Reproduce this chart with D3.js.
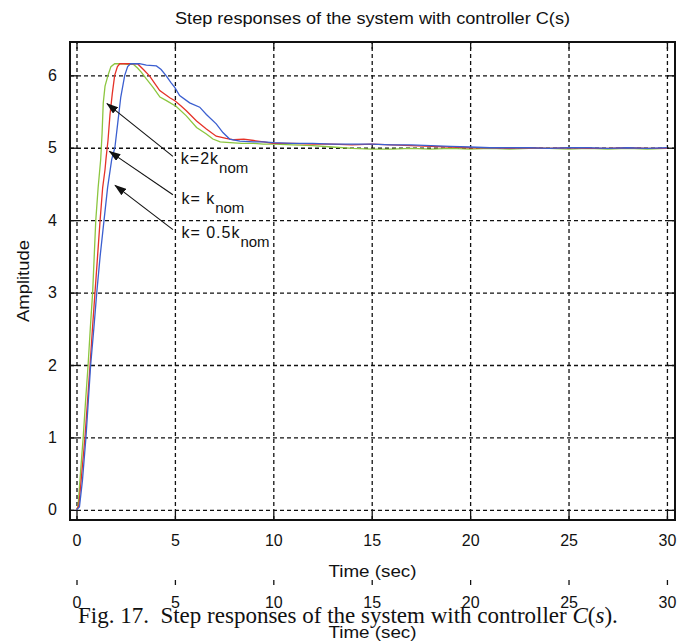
<!DOCTYPE html>
<html lang="en">
<head>
  <meta charset="UTF-8">
  <title>Step responses of the system with controller C(s)</title>
  <script src="https://d3js.org/d3.v7.min.js"></script>
  <style>
    body { margin: 0; background: #fff; }
    svg { display: block; }
    text { font-family: "Liberation Sans", Arial, sans-serif; fill: #111; }
    .grid line { stroke: #111; stroke-width: 1.3; stroke-dasharray: 4,3; }
    .grid path { display: none; }
    .tk line { stroke: #111; stroke-width: 1.3; }
    .tk path { display: none; }
    .tk text { font-size: 16px; font-family: "Liberation Sans", Arial, sans-serif; }
    .caption { font-family: "Liberation Serif", "Times New Roman", serif; }
  </style>
</head>
<body>
  <svg width="688" height="644"></svg>

  <script>
    // Tick values
    const xTicks = [0, 5, 10, 15, 20, 25, 30];
    const yTicks = [0, 1, 2, 3, 4, 5, 6];

    // k = 2 k_nom (green)
    const t2k = [0, 0.08, 0.2, 0.34, 0.46, 0.59, 0.7, 0.82, 0.9, 0.98,
      1.1, 1.23, 1.3, 1.36, 1.45, 1.6, 1.75, 1.94, 2.3, 2.6,
      2.9, 3.1, 3.3, 3.55, 3.9, 4.24, 4.57, 5.07, 5.58, 6.1,
      6.6, 6.93, 7.3, 7.8, 8.4, 9, 9.5, 10, 11, 12,
      13, 14, 15, 16, 17, 18, 19, 20, 21, 22,
      23, 24, 25, 26, 27, 28, 29, 30];
    const y2k = [0, 0.05, 0.5, 1.0, 1.5, 2.0, 2.5, 3.0, 3.5, 4.0,
      4.45, 4.84, 5.2, 5.62, 5.85, 6.0, 6.12, 6.16, 6.16, 6.15,
      6.15, 6.1, 6.04, 5.95, 5.83, 5.7, 5.65, 5.57, 5.44, 5.28,
      5.19, 5.12, 5.08, 5.07, 5.06, 5.06, 5.05, 5.05, 5.04, 5.03,
      5.01, 4.99, 4.98, 4.98, 4.99, 4.98, 4.99, 4.98, 4.99, 4.98,
      4.99, 4.99, 4.98, 4.99, 4.98, 4.99, 4.98, 4.99];

    // k = k_nom (red)
    const t1k = [0, 0.12, 0.25, 0.43, 0.56, 0.69, 0.81, 0.94, 1.07, 1.2,
      1.33, 1.45, 1.5, 1.6, 1.7, 1.82, 1.94, 2.08, 2.2, 2.6,
      3.1, 3.4, 3.72, 4.0, 4.23, 4.74, 5.0, 5.3, 5.58, 6.1,
      6.6, 7.1, 7.6, 8.0, 8.5, 9.0, 9.5, 10, 11, 12,
      13, 14, 15, 16, 17, 18, 19, 20, 21, 22,
      23, 24, 25, 26, 27, 28, 29, 30];
    const y1k = [0, 0.06, 0.45, 1.0, 1.5, 2.0, 2.5, 3.0, 3.5, 4.0,
      4.45, 4.7, 4.85, 5.1, 5.45, 5.75, 6.0, 6.12, 6.16, 6.16,
      6.16, 6.08, 5.99, 5.88, 5.79, 5.69, 5.65, 5.58, 5.51, 5.37,
      5.26, 5.16, 5.13, 5.11, 5.12, 5.1, 5.08, 5.06, 5.06, 5.05,
      5.05, 5.04, 5.05, 5.04, 5.03, 5.02, 5.01, 5.0, 5.0, 4.99,
      5.0, 4.99, 5.0, 4.99, 4.99, 5.0, 4.99, 4.99];

    // k = 0.5 k_nom (blue)
    const t05k = [0, 0.15, 0.3, 0.48, 0.6, 0.72, 0.88, 1.03, 1.2, 1.4,
      1.58, 1.79, 1.95, 2.1, 2.25, 2.45, 2.6, 2.75, 3.2, 3.55,
      4.06, 4.3, 4.57, 4.8, 5.0, 5.24, 5.75, 6.26, 6.6, 7.1,
      7.44, 7.78, 8.3, 9, 9.5, 10, 11, 12, 13, 14,
      15, 16, 17, 18, 19, 20, 21, 22, 23, 24,
      25, 26, 27, 28, 29, 30];
    const y05k = [0, 0.04, 0.4, 1.0, 1.5, 2.0, 2.5, 3.0, 3.5, 4.0,
      4.45, 4.84, 5.0, 5.35, 5.7, 6.0, 6.12, 6.16, 6.16, 6.14,
      6.13, 6.08, 5.99, 5.9, 5.83, 5.72, 5.62, 5.56, 5.46, 5.33,
      5.21, 5.12, 5.09, 5.08, 5.08, 5.07, 5.06, 5.06, 5.05, 5.05,
      5.05, 5.04, 5.04, 5.03, 5.02, 5.01, 5.0, 5.0, 5.0, 4.99,
      5.0, 5.0, 4.99, 5.0, 4.99, 5.0];

    const seriesColors = ["#8cc63f", "#e53228", "#3b5fd0"];

    // annotation labels: main text, subscript, arrow tail/tip in data units
    const annoMain = ["k=2k", "k= k", "k= 0.5k"];
    const annoSub = ["nom", "nom", "nom"];
    const annoTail = [[4.9, 4.88], [4.9, 4.35], [4.9, 3.87]];
    const annoTip = [[1.55, 5.61], [1.67, 4.95], [1.96, 4.48]];
    const annoBase = [[5.3, 4.77], [5.33, 4.22], [5.33, 3.76]];

    const frame = { left: 70, right: 675, top: 42, bottom: 520 };

    const svg = d3.select("svg");

    const x = d3.scaleLinear()
      .domain([-0.33, 30.41])
      .range([frame.left, frame.right]);
    const y = d3.scaleLinear()
      .domain([-0.14, 6.46])
      .range([frame.bottom, frame.top]);

    // dashed grid
    svg.append("g").attr("class", "grid")
      .attr("transform", `translate(0,${frame.bottom})`)
      .call(d3.axisBottom(x).tickValues(xTicks).tickSize(-(frame.bottom - frame.top)).tickFormat(""));
    svg.append("g").attr("class", "grid")
      .attr("transform", `translate(${frame.left},0)`)
      .call(d3.axisLeft(y).tickValues(yTicks).tickSize(-(frame.right - frame.left)).tickFormat(""));

    // inward ticks with labels
    svg.append("g").attr("class", "tk")
      .attr("transform", `translate(0,${frame.bottom})`)
      .call(d3.axisBottom(x).tickValues(xTicks).tickSizeInner(-7).tickSizeOuter(0).tickPadding(15).tickFormat(d3.format("d")));
    svg.append("g").attr("class", "tk")
      .attr("transform", `translate(0,${frame.top})`)
      .call(d3.axisTop(x).tickValues(xTicks).tickSizeInner(-7).tickSizeOuter(0).tickFormat(""));
    svg.append("g").attr("class", "tk")
      .attr("transform", `translate(${frame.left},0)`)
      .call(d3.axisLeft(y).tickValues(yTicks).tickSizeInner(-7).tickSizeOuter(0).tickPadding(13).tickFormat(d3.format("d")));
    svg.append("g").attr("class", "tk")
      .attr("transform", `translate(${frame.right},0)`)
      .call(d3.axisRight(y).tickValues(yTicks).tickSizeInner(-7).tickSizeOuter(0).tickFormat(""));

    // frame
    svg.append("rect")
      .attr("x", frame.left).attr("y", frame.top)
      .attr("width", frame.right - frame.left)
      .attr("height", frame.bottom - frame.top)
      .attr("fill", "none").attr("stroke", "#111").attr("stroke-width", 2);

    // curves
    const line = d3.line().x(d => x(d[0])).y(d => y(d[1]));
    const series = [d3.zip(t2k, y2k), d3.zip(t1k, y1k), d3.zip(t05k, y05k)];
    svg.append("g").selectAll("path")
      .data(series)
      .join("path")
      .attr("d", line)
      .attr("fill", "none")
      .attr("stroke", (d, i) => seriesColors[i])
      .attr("stroke-width", 1.3);

    // arrows
    svg.append("defs").append("marker")
      .attr("id", "head")
      .attr("viewBox", "0 0 12 8")
      .attr("refX", 11).attr("refY", 4)
      .attr("markerWidth", 12).attr("markerHeight", 8)
      .attr("markerUnits", "userSpaceOnUse")
      .attr("orient", "auto")
      .append("path").attr("d", "M0,0L12,4L0,8Z").attr("fill", "#111");

    svg.append("g").selectAll("line")
      .data(annoTail)
      .join("line")
      .attr("x1", d => x(d[0])).attr("y1", d => y(d[1]))
      .attr("x2", (d, i) => x(annoTip[i][0])).attr("y2", (d, i) => y(annoTip[i][1]))
      .attr("stroke", "#111").attr("stroke-width", 1.1)
      .attr("marker-end", "url(#head)");

    const lbl = svg.append("g").selectAll("text")
      .data(annoMain)
      .join("text")
      .attr("x", (d, i) => x(annoBase[i][0]))
      .attr("y", (d, i) => y(annoBase[i][1]))
      .attr("font-size", 16)
      .attr("letter-spacing", 1);
    lbl.append("tspan").text(d => d);
    lbl.append("tspan").attr("dy", 9).attr("font-size", 15).attr("letter-spacing", 0)
      .text((d, i) => annoSub[i]);

    // titles
    svg.append("text")
      .attr("x", (frame.left + frame.right) / 2).attr("y", 24)
      .attr("text-anchor", "middle").attr("font-size", 16)
      .attr("textLength", 395).attr("lengthAdjust", "spacingAndGlyphs")
      .text("Step responses of the system with controller C(s)");
    svg.append("text")
      .attr("x", (frame.left + frame.right) / 2).attr("y", 577)
      .attr("text-anchor", "middle").attr("font-size", 16)
      .attr("textLength", 88).attr("lengthAdjust", "spacingAndGlyphs")
      .text("Time (sec)");
    svg.append("text")
      .attr("transform", `translate(29,${(frame.top + frame.bottom) / 2}) rotate(-90)`)
      .attr("text-anchor", "middle").attr("font-size", 16)
      .attr("textLength", 82).attr("lengthAdjust", "spacingAndGlyphs")
      .text("Amplitude");

    // duplicated lower time axis
    svg.append("g").attr("class", "tk")
      .attr("transform", "translate(0,585)")
      .call(d3.axisBottom(x).tickValues(xTicks).tickSizeInner(-5).tickSizeOuter(-5).tickPadding(12))
      .call(g => g.select("path").style("display", null).attr("stroke", "#111").attr("stroke-width", 2).attr("fill", "none"));
    svg.append("text")
      .attr("x", (frame.left + frame.right) / 2).attr("y", 638)
      .attr("text-anchor", "middle").attr("font-size", 16)
      .attr("textLength", 88).attr("lengthAdjust", "spacingAndGlyphs")
      .text("Time (sec)");

    // figure caption
    const cap = svg.append("text").attr("class", "caption")
      .attr("x", 78).attr("y", 623).attr("font-size", 23);
    cap.append("tspan").text("Fig. 17.\u00a0\u00a0Step responses of the system with controller ");
    cap.append("tspan").attr("font-style", "italic").text("C");
    cap.append("tspan").text("(");
    cap.append("tspan").attr("font-style", "italic").text("s");
    cap.append("tspan").text(").");
  </script>
</body>
</html>
